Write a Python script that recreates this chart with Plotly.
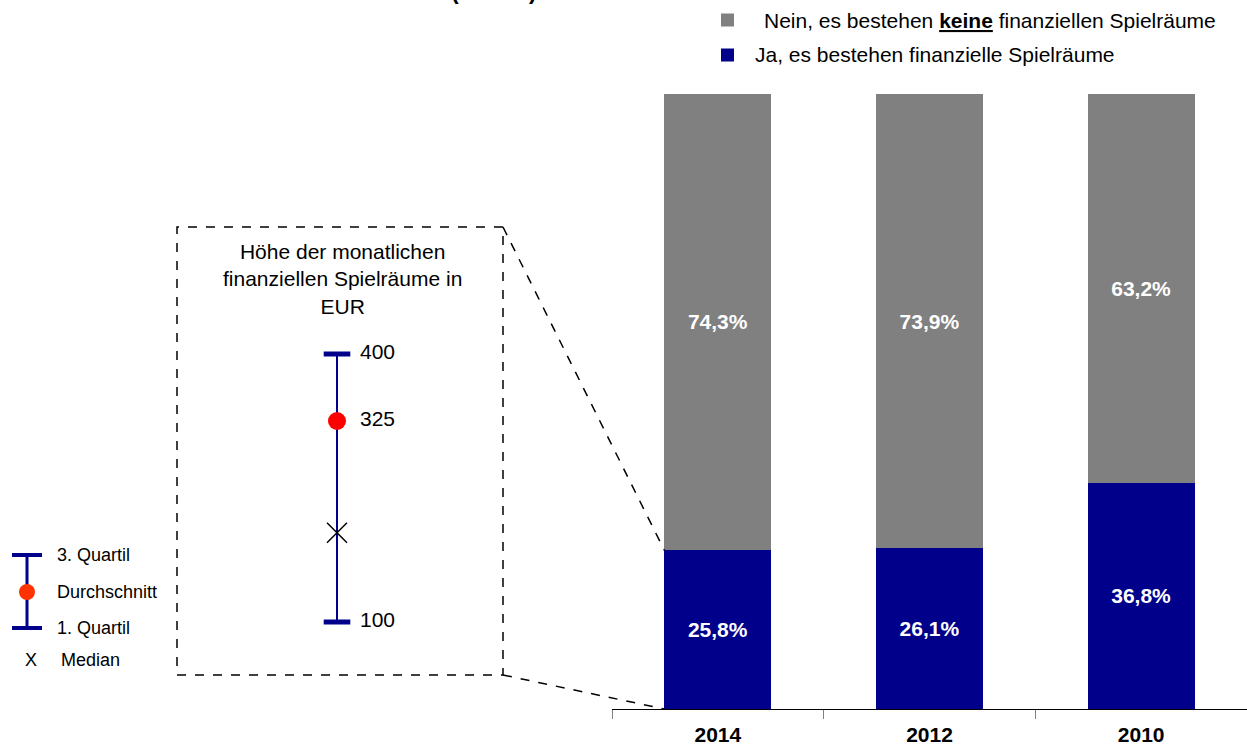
import plotly.graph_objects as go

# Daten
years = ["2014", "2012", "2010"]
ja_values = [25.8, 26.1, 36.8]
nein_values = [74.3, 73.9, 63.2]

# Inset: Höhe der monatlichen finanziellen Spielräume in EUR
quartil_1 = 100
quartil_3 = 400
durchschnitt = 325
median = 200

NAVY = "#00008B"
GREY = "#808080"
RED = "#FF0000"
FONT = "Arial, Liberation Sans, sans-serif"

W, H = 1247, 746
BAR_WIDTH = 0.505


def px(x):
    return x / W


def py(y):
    return 1 - y / H


def pct(v):
    return f"{v:.1f}%".replace(".", ",")


x_dom = [px(612), 1.0]
y_dom = [py(709), py(94)]

fig = go.Figure()

# gestapelte Balken
fig.add_trace(go.Bar(
    x=years, y=ja_values, name="Ja, es bestehen finanzielle Spielräume",
    marker=dict(color=NAVY, line=dict(width=0)),
    width=BAR_WIDTH,
    text=[pct(v) for v in ja_values],
    textposition="inside", insidetextanchor="middle", textangle=0,
    textfont=dict(color="white", size=21, family=FONT, weight="bold"),
    showlegend=False, hoverinfo="skip",
))
fig.add_trace(go.Bar(
    x=years, y=nein_values, name="Nein, es bestehen keine finanziellen Spielräume",
    marker=dict(color=GREY, line=dict(width=0)),
    width=BAR_WIDTH,
    text=[pct(v) for v in nein_values],
    textposition="inside", insidetextanchor="middle", textangle=0,
    textfont=dict(color="white", size=21, family=FONT, weight="bold"),
    showlegend=False, hoverinfo="skip",
))

# Inset: Quartilsspanne
fig.add_trace(go.Scatter(
    x=[0, 0], y=[quartil_1, quartil_3], mode="lines",
    line=dict(color=NAVY, width=2), cliponaxis=False,
    xaxis="x2", yaxis="y2", showlegend=False, hoverinfo="skip",
))
fig.add_trace(go.Scatter(
    x=[0, 0], y=[quartil_1, quartil_3], mode="markers",
    marker=dict(symbol="line-ew", size=19, line=dict(color=NAVY, width=5)),
    cliponaxis=False,
    xaxis="x2", yaxis="y2", showlegend=False, hoverinfo="skip",
))
fig.add_trace(go.Scatter(
    x=[0], y=[durchschnitt], mode="markers",
    marker=dict(symbol="circle", size=18, color=RED),
    xaxis="x2", yaxis="y2", showlegend=False, hoverinfo="skip",
))
fig.add_trace(go.Scatter(
    x=[0], y=[median], mode="markers",
    marker=dict(symbol="x-thin", size=20, line=dict(color="black", width=1.5)),
    xaxis="x2", yaxis="y2", showlegend=False, hoverinfo="skip",
))
fig.add_trace(go.Scatter(
    x=[0.23, 0.23, 0.23], y=[quartil_3, durchschnitt, quartil_1], mode="text",
    text=[str(quartil_3), str(durchschnitt), str(quartil_1)],
    textposition="middle right", cliponaxis=False,
    textfont=dict(size=21, color="black", family=FONT),
    xaxis="x2", yaxis="y2", showlegend=False, hoverinfo="skip",
))

shapes = []
annotations = []

# Rahmen um das Inset und Verbindungslinien zum Balken 2014
shapes.append(dict(type="rect", xref="paper", yref="paper",
                   x0=px(177), x1=px(503), y0=py(675), y1=py(227),
                   line=dict(color="black", width=1.5, dash="dash")))
bar_left = x_dom[0] + (0.5 - BAR_WIDTH / 2) / 3 * (x_dom[1] - x_dom[0])
ja_top = y_dom[0] + ja_values[0] / 100 * (y_dom[1] - y_dom[0])
shapes.append(dict(type="line", xref="paper", yref="paper",
                   x0=px(503), y0=py(227), x1=bar_left, y1=ja_top,
                   line=dict(color="black", width=1.5, dash="dash")))
shapes.append(dict(type="line", xref="paper", yref="paper",
                   x0=px(503), y0=py(675), x1=bar_left, y1=y_dom[0],
                   line=dict(color="black", width=1.5, dash="dash")))

annotations.append(dict(
    text="Höhe der monatlichen<br>finanziellen Spielräume in<br>EUR",
    xref="paper", yref="paper", x=px(342), y=py(279),
    xanchor="center", yanchor="middle", showarrow=False, align="center",
    font=dict(size=21, color="black", family=FONT),
))

# Legende links (Erklärung der Symbole)
shapes += [
    dict(type="line", xref="paper", yref="paper", x0=px(27), x1=px(27), y0=py(555), y1=py(628),
         line=dict(color=NAVY, width=3)),
    dict(type="line", xref="paper", yref="paper", x0=px(12), x1=px(42), y0=py(555), y1=py(555),
         line=dict(color=NAVY, width=4)),
    dict(type="line", xref="paper", yref="paper", x0=px(12), x1=px(42), y0=py(628), y1=py(628),
         line=dict(color=NAVY, width=4)),
    dict(type="circle", xref="paper", yref="paper", x0=px(19), x1=px(35), y0=py(600), y1=py(584),
         fillcolor="#FF3300", line=dict(width=0)),
]
for txt, x, y, anchor in [("3. Quartil", 55, 555, "left"), ("Durchschnitt", 55, 592, "left"),
                          ("1. Quartil", 55, 628, "left"), ("X", 31, 660, "center"),
                          ("Median", 59, 660, "left")]:
    annotations.append(dict(text=txt, xref="paper", yref="paper", x=px(x), y=py(y),
                            xanchor=anchor, yanchor="middle", showarrow=False,
                            font=dict(size=18, color="black", family=FONT)))

# Legende oben
for label, color, y, x_text in [
    ("Nein, es bestehen <b><u>keine</u></b> finanziellen Spielräume", GREY, 20, 762),
    ("Ja, es bestehen finanzielle Spielräume", NAVY, 55, 753),
]:
    shapes.append(dict(type="rect", xref="paper", yref="paper",
                       x0=px(721), x1=px(734), y0=py(y + 6.5), y1=py(y - 6.5),
                       fillcolor=color, line=dict(width=0)))
    annotations.append(dict(text=label, xref="paper", yref="paper", x=px(x_text), y=py(y),
                            xanchor="left", yanchor="middle", showarrow=False,
                            font=dict(size=21, color="black", family=FONT)))

# abgeschnittener Text am oberen Rand (im Original nur unten sichtbar)
annotations.append(dict(text="<b>(Abb. 4).</b>", xref="paper", yref="paper", x=px(497), y=py(-9),
                        xanchor="center", yanchor="middle", showarrow=False,
                        font=dict(size=23, color="black", family=FONT)))

fig.update_layout(
    width=W, height=H,
    margin=dict(l=0, r=0, t=0, b=0),
    paper_bgcolor="white", plot_bgcolor="white",
    barmode="stack", bargap=0.495,
    font=dict(family=FONT, color="black"),
    xaxis=dict(domain=x_dom, showline=True, linecolor="black", linewidth=1,
               ticks="outside", tickson="boundaries", ticklen=9, tickcolor="#808080", tickwidth=1,
               tickfont=dict(size=21, family=FONT, color="black", weight="bold"),
               ticklabelstandoff=7, showgrid=False, zeroline=False, fixedrange=True),
    yaxis=dict(domain=y_dom, range=[0, 100], visible=False, showgrid=False, fixedrange=True),
    xaxis2=dict(domain=[px(237), px(437)], range=[-1, 1], visible=False, anchor="y2"),
    yaxis2=dict(domain=[py(622), py(354)], range=[quartil_1, quartil_3], visible=False, anchor="x2"),
    shapes=shapes,
    annotations=annotations,
)

# Seitenrand des Browsers entfernen, damit die Grafik bei (0,0) beginnt
fig.write_html("out.html", config={"displayModeBar": False},
               post_script="document.body.style.margin='0';")
